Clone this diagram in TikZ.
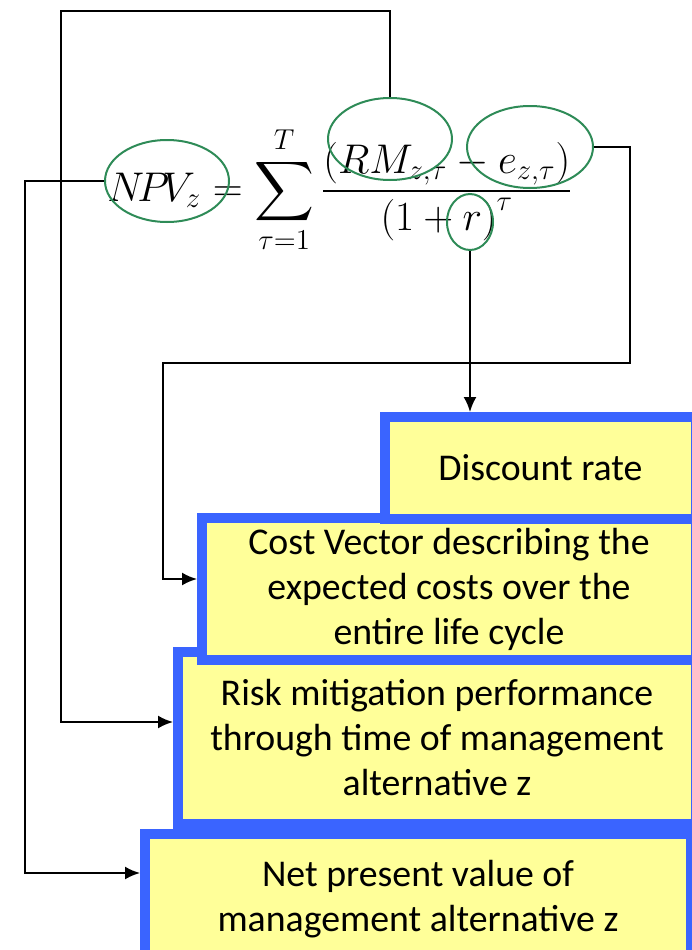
\documentclass[tikz,border=0pt]{standalone}
\usepackage{amsmath}
\usepackage{fontspec}
\setmainfont{Carlito}
\usepackage{tikz}
\usetikzlibrary{shapes.geometric,arrows.meta}
\definecolor{boxblue}{RGB}{58,100,255}
\definecolor{boxyellow}{RGB}{255,255,153}
\definecolor{ovalgreen}{RGB}{46,139,87}
\tikzset{ell/.style={ellipse,draw=ovalgreen,line width=2pt,inner sep=0pt},
  box/.style={rectangle,draw=boxblue,line width=10pt,fill=boxyellow,inner sep=0pt,align=center,
    font=\fontsize{37.8}{45}\selectfont},
  conn/.style={line width=2pt}}

\begin{document}
\begin{tikzpicture}[x=1pt,y=-1pt,>={Latex[length=15pt,width=13pt]}]
    \useasboundingbox (0,0) rectangle (692,950);

    % boxes, bottom one first
    \node[box,minimum width=546,minimum height=131] (value) at (418,899) {Net present value of\\management alternative z};
    \node[box,minimum width=518,minimum height=172] (risk) at (437,738) {Risk mitigation performance\\through time of management\\alternative z};
    \node[box,minimum width=494,minimum height=142] (cost) at (449,589) {Cost Vector describing the\\expected costs over the\\entire life cycle};
    \node[box,minimum width=311,minimum height=102] (rate) at (540.5,468) {Discount rate};

    % the formula
    \node[scale=2,font=\huge] (eq) at (340,190) {$N\!P\!V_z = \displaystyle\sum_{\tau=1}^{T}\frac{\left(RM_{z,\tau}-e_{z,\tau}\right)}{\left(1+r\right)^{\tau}}$};

    \node[ell,minimum width=124,minimum height=82] (npv) at (167,181) {};
    \node[ell,minimum width=124,minimum height=82] (rm) at (390,139) {};
    \node[ell,minimum width=126,minimum height=82] (ee) at (530,147) {};
    \node[ell,minimum width=46,minimum height=56] (rr) at (470,222) {};

    \draw[conn,->] (npv.west) -- (25,181) |- (value.west |- 0,873);
    \draw[conn,->] (rm.north) |- (61,11) |- (risk.west |- 0,722);
    \draw[conn,->] (ee.east) -- (630,147) |- (163,363) |- (cost.west |- 0,579);
    \draw[conn,->] (rr.south) -- (rr.south |- rate.north);
\end{tikzpicture}
\end{document}
